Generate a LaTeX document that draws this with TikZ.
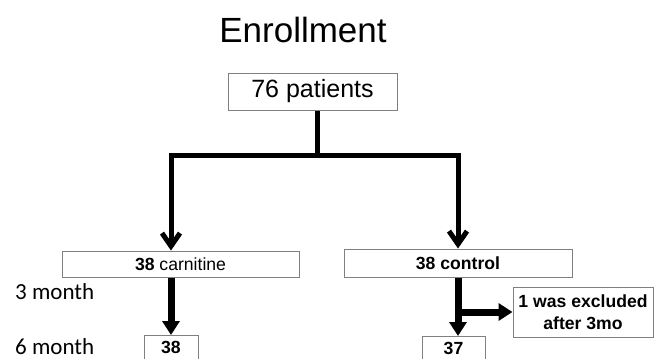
\documentclass[tikz,border=0pt]{standalone}
\usepackage{fontspec}
\setmainfont{Liberation Sans}
\newfontfamily\calibri{Carlito}
\usetikzlibrary{arrows.meta,positioning}

\tikzset{
  box/.style={draw=black!50, line width=1pt, inner sep=0pt, align=center},
  cutbox/.style={box, anchor=north, text height=13pt, text depth=24pt, inner ysep=5pt},
  grpfont/.style={font=\fontsize{17.6}{21.5}\selectfont},
  month/.style={font=\calibri\fontsize{23}{27}\selectfont, anchor=base west, inner sep=0pt},
  trunk/.style={line width=5pt, line join=miter, -{Straight Barb[length=13pt,width=18pt]}},
  lower/.style={line width=7pt, -{Triangle[length=14pt,width=17pt]}}
}

\begin{document}
\begin{tikzpicture}[x=1pt,y=-1pt]
		\clip (0,0) rectangle (670,359);
		
		% titles and boxes
		\node[font=\fontsize{35}{40}\selectfont, anchor=base, inner sep=0pt] (enroll) at (303,42) {Enrollment};
		\node[box, minimum width=169, minimum height=37, font=\fontsize{25}{30}\selectfont] (total) at (312.5,91.5) {76 patients};
		
		\node[box, grpfont, minimum width=237, minimum height=26] (carn) at (180.5,264) {\textbf{38} carnitine};
		\node[box, grpfont, minimum width=228, minimum height=28] (ctrl) at (458,263) {\textbf{38 control}};
		\node[box, grpfont, minimum width=140, minimum height=50] (excl) at (583,312) {\textbf{1 was excluded}\\\textbf{after 3mo}};
		
		\node[cutbox, grpfont, minimum width=54] (carnsix) at (171,335) {\textbf{38}};
		\node[cutbox, grpfont, minimum width=63] (ctrlsix) at (453.5,336) {\textbf{37}};
		
		\node[month] (three) at (15,299) {3 month};
		\node[month] (six) at (15,354) {6 month};
		
		% arrows
		\coordinate (split) at (317,155);
		\draw[trunk, -] (total.south -| split) -- (split);
		\draw[trunk] (split) -| (carn.north -| carnsix);
		\draw[trunk] (split) -| (ctrl.north);
		
		\draw[lower] (carn.south -| carnsix) -- (carnsix.north);
		\draw[lower] (ctrl.south) -- (ctrl.south |- ctrlsix.north);
		\draw[lower] (ctrl.south |- excl.west) -- (excl.west);
	\end{tikzpicture}
\end{document}
